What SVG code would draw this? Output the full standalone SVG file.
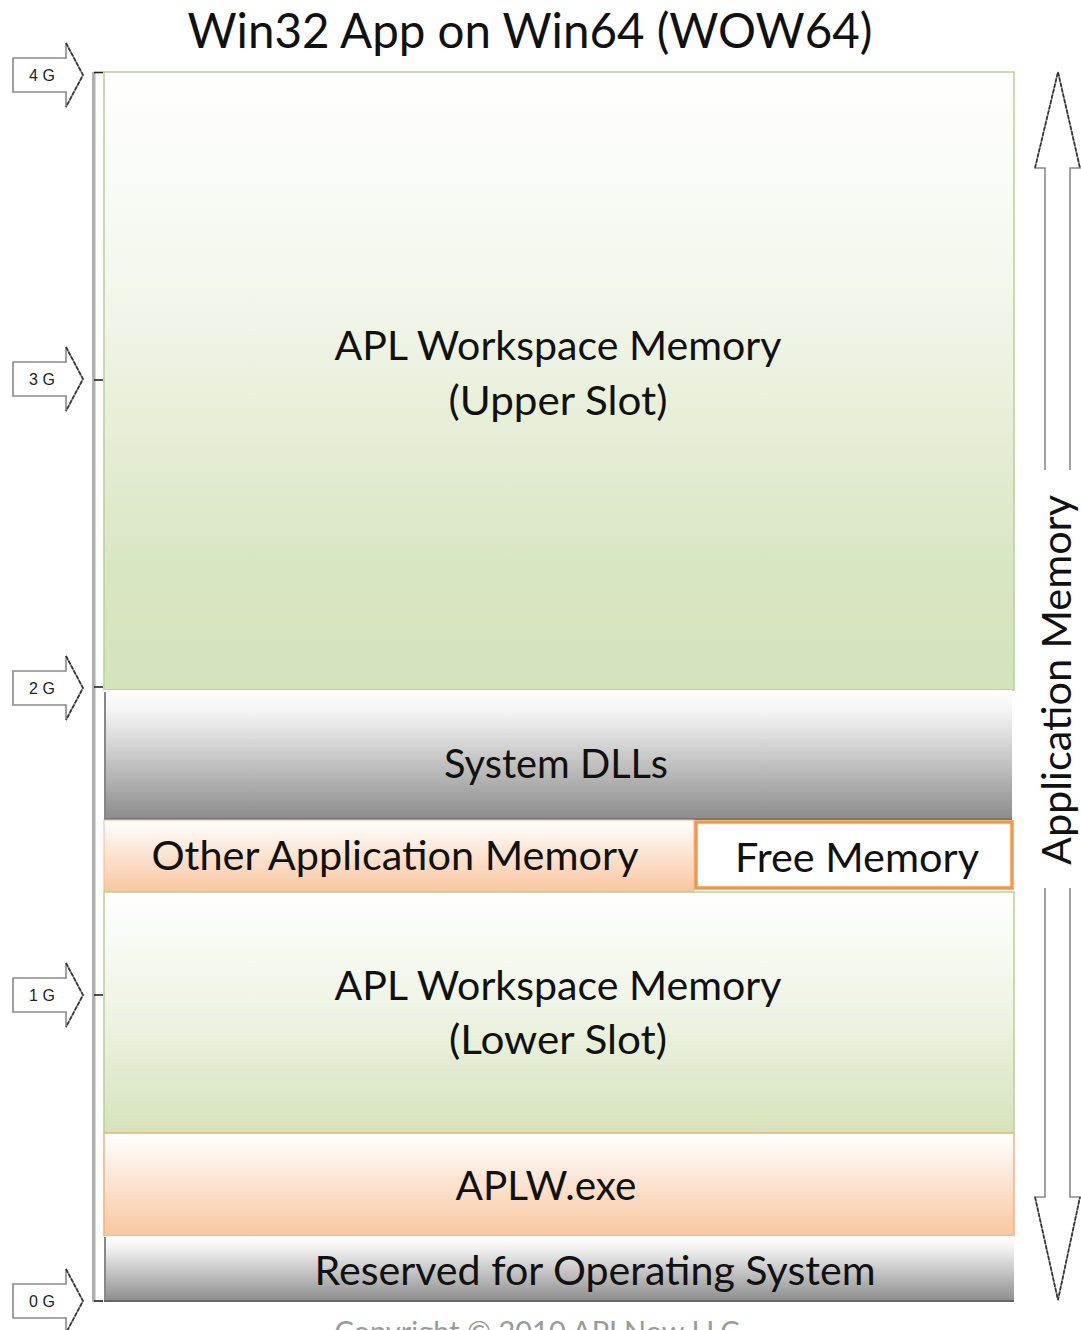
<svg xmlns="http://www.w3.org/2000/svg" width="1081" height="1330" viewBox="0 0 1081 1330">
<style>
.t{font-family:Lato,"Open Sans","Liberation Sans",sans-serif;fill:#111;text-anchor:middle}
.big{font-size:40px}
.lbl{font-family:"Liberation Sans","DejaVu Sans",sans-serif;font-size:16px;fill:#222;text-anchor:middle}
.ar{fill:#fff;stroke:#8a8a8a;stroke-width:1.6}
.hd{fill:none;stroke:#333;stroke-width:1.6;stroke-dasharray:4 1.5}
</style>
<defs>
<linearGradient id="gGreen" x1="0" y1="0" x2="0" y2="1">
<stop offset="0" stop-color="#ffffff"/><stop offset="0.35" stop-color="#f3f7ec"/><stop offset="0.8" stop-color="#d9e6c2"/><stop offset="1" stop-color="#d5e3bb"/>
</linearGradient>
<linearGradient id="gGreen2" x1="0" y1="0" x2="0" y2="1">
<stop offset="0" stop-color="#ffffff"/><stop offset="0.5" stop-color="#eef4e4"/><stop offset="1" stop-color="#d5e3bb"/>
</linearGradient>
<linearGradient id="gGray" x1="0" y1="0" x2="0" y2="1">
<stop offset="0" stop-color="#ffffff"/><stop offset="0.2" stop-color="#f0f0f0"/><stop offset="1" stop-color="#8b8b8b"/>
</linearGradient>
<linearGradient id="gPeach" x1="0" y1="0" x2="0" y2="1">
<stop offset="0" stop-color="#ffffff"/><stop offset="1" stop-color="#f9c6a0"/>
</linearGradient>
</defs>

<text class="t" x="530" y="48" font-size="48" textLength="685" lengthAdjust="spacingAndGlyphs">Win32 App on Win64 (WOW64)</text>

<g id="axis">
<rect x="92" y="72" width="3.5" height="1230" fill="#b0b0b0"/>
<g stroke="#222" stroke-width="1.6">
<line x1="94" y1="72.5" x2="103" y2="72.5"/>
<line x1="94" y1="380" x2="103" y2="380"/>
<line x1="94" y1="687" x2="103" y2="687"/>
<line x1="94" y1="995" x2="103" y2="995"/>
<line x1="94" y1="1301" x2="103" y2="1301"/>
</g>
</g>

<g id="mark-4G" transform="translate(0,75)">
<path class="ar" d="M13,-17 H66 V-32 L83,0 L66,32 V17 H13 Z"/><path class="hd" d="M66,-32 L83,0 L66,32"/>
<text class="lbl" x="42" y="6">4 G</text></g>
<g id="mark-3G" transform="translate(0,379)">
<path class="ar" d="M13,-17 H66 V-32 L83,0 L66,32 V17 H13 Z"/><path class="hd" d="M66,-32 L83,0 L66,32"/>
<text class="lbl" x="42" y="6">3 G</text></g>
<g id="mark-2G" transform="translate(0,688)">
<path class="ar" d="M13,-17 H66 V-32 L83,0 L66,32 V17 H13 Z"/><path class="hd" d="M66,-32 L83,0 L66,32"/>
<text class="lbl" x="42" y="6">2 G</text></g>
<g id="mark-1G" transform="translate(0,995)">
<path class="ar" d="M13,-17 H66 V-32 L83,0 L66,32 V17 H13 Z"/><path class="hd" d="M66,-32 L83,0 L66,32"/>
<text class="lbl" x="42" y="6">1 G</text></g>
<g id="mark-0G" transform="translate(0,1301)">
<path class="ar" d="M13,-17 H66 V-32 L83,0 L66,32 V17 H13 Z"/><path class="hd" d="M66,-32 L83,0 L66,32"/>
<text class="lbl" x="42" y="6">0 G</text></g>

<g id="upper-slot">
<rect x="104" y="72" width="910" height="618" fill="url(#gGreen)" stroke="#b9cf95" stroke-width="1.5"/>
<text class="t big" x="558" y="360" textLength="447" lengthAdjust="spacingAndGlyphs">APL Workspace Memory</text>
<text class="t big" x="558" y="415" textLength="219" lengthAdjust="spacingAndGlyphs">(Upper Slot)</text>
</g>

<g id="system-dlls">
<rect x="104" y="690" width="908" height="130" fill="url(#gGray)"/>
<line x1="104" y1="819" x2="1012" y2="819" stroke="#777" stroke-width="2"/>
<line x1="105" y1="692" x2="105" y2="818" stroke="#888" stroke-width="2"/>
<text class="t big" x="556" y="778" textLength="224" lengthAdjust="spacingAndGlyphs">System DLLs</text>
</g>

<g id="other-app-memory">
<rect x="104" y="820" width="590" height="72" fill="url(#gPeach)" stroke="#f5b98f" stroke-width="1"/>
<text class="t big" x="395" y="870" textLength="487" lengthAdjust="spacingAndGlyphs">Other Application Memory</text>
</g>

<g id="free-memory">
<rect x="696" y="822" width="316" height="66" fill="#ffffff" stroke="#f79646" stroke-width="3.5"/>
<text class="t big" x="857" y="872" textLength="244" lengthAdjust="spacingAndGlyphs">Free Memory</text>
</g>

<g id="lower-slot">
<rect x="104" y="892" width="910" height="241" fill="url(#gGreen2)" stroke="#b9cf95" stroke-width="1.5"/>
<text class="t big" x="558" y="1000" textLength="447" lengthAdjust="spacingAndGlyphs">APL Workspace Memory</text>
<text class="t big" x="558" y="1054" textLength="218" lengthAdjust="spacingAndGlyphs">(Lower Slot)</text>
</g>

<g id="aplw-exe">
<rect x="104" y="1133" width="910" height="103" fill="url(#gPeach)" stroke="#f4b183" stroke-width="1.5"/>
<text class="t big" x="546" y="1200" textLength="181" lengthAdjust="spacingAndGlyphs">APLW.exe</text>
</g>

<g id="reserved-os">
<rect x="104" y="1236" width="910" height="66" fill="url(#gGray)"/>
<line x1="104" y1="1301" x2="1014" y2="1301" stroke="#666" stroke-width="2"/>
<line x1="105" y1="1237" x2="105" y2="1300" stroke="#888" stroke-width="2"/>
<text class="t big" x="595" y="1285" textLength="561" lengthAdjust="spacingAndGlyphs">Reserved for Operating System</text>
</g>

<g id="application-memory-arrow">
<path class="ar" d="M1045,470 V168 H1035 L1058,72 L1080,168 H1070 V470"/>
<path class="hd" d="M1035,168 L1058,72 L1080,168"/>
<path class="ar" d="M1045,888 V1197 H1035 L1058,1300 L1080,1197 H1070 V888"/>
<path class="hd" d="M1035,1197 L1058,1300 L1080,1197"/>
<text class="t big" transform="translate(1071,680) rotate(-90)" x="0" y="0" textLength="370" lengthAdjust="spacingAndGlyphs">Application Memory</text>
</g>

<text class="t" x="537" y="1342" font-size="28" fill="#9a9a9a" style="fill:#9a9a9a" textLength="405" lengthAdjust="spacingAndGlyphs">Copyright © 2010 APLNow LLC</text>
</svg>
